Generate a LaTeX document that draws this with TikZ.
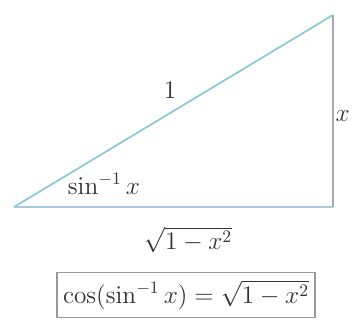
\documentclass[tikz,border=0pt]{standalone}
\usepackage{amsmath}
\usepackage{xcolor}
\usepackage{tikz}
\usetikzlibrary{
  arrows.meta,
  positioning,
  calc
}
\definecolor{trhyp}  {HTML}{8CCAD6}
\definecolor{trbase} {HTML}{A9C9E2}
\definecolor{trside} {HTML}{A3AAB8}
\definecolor{trgray} {HTML}{9A9A9A}
\definecolor{trtext} {HTML}{333333}

\begin{document}
\begin{tikzpicture}[
  x=0.02cm, y=-0.02cm,
  every node/.style={font=\Large, text=trtext},
  edge/.style={line width=1pt},
  formula/.style={
    rectangle, draw=trgray, line width=0.6pt, fill=white,
    minimum width=5.16cm, minimum height=0.9cm, text centered
  },
]
\useasboundingbox (0,0) rectangle (352,335);

% Triangle corners
\coordinate (A) at (14,207);
\coordinate (B) at (333,207);
\coordinate (C) at (333,15);

% Sides
\draw[edge, trbase] (A) -- (B);
\draw[edge, trside] (B) -- (C);
\draw[edge, trhyp]  (A) -- (C);

% Side and angle labels
\node (hyp)   at (170,90)  {1};
\node[anchor=east, inner sep=0.5pt] (opp) at (351,116) {$x$};
\node (angle) at (104,184) {$\sin^{-1} x$};
\node (adj)   at (188,240) {$\sqrt{1-x^2}$};

% Result
\node[formula] (res) at (186,295)
  {$\cos(\sin^{-1} x) = \sqrt{1-x^2}$};
\end{tikzpicture}
\end{document}
